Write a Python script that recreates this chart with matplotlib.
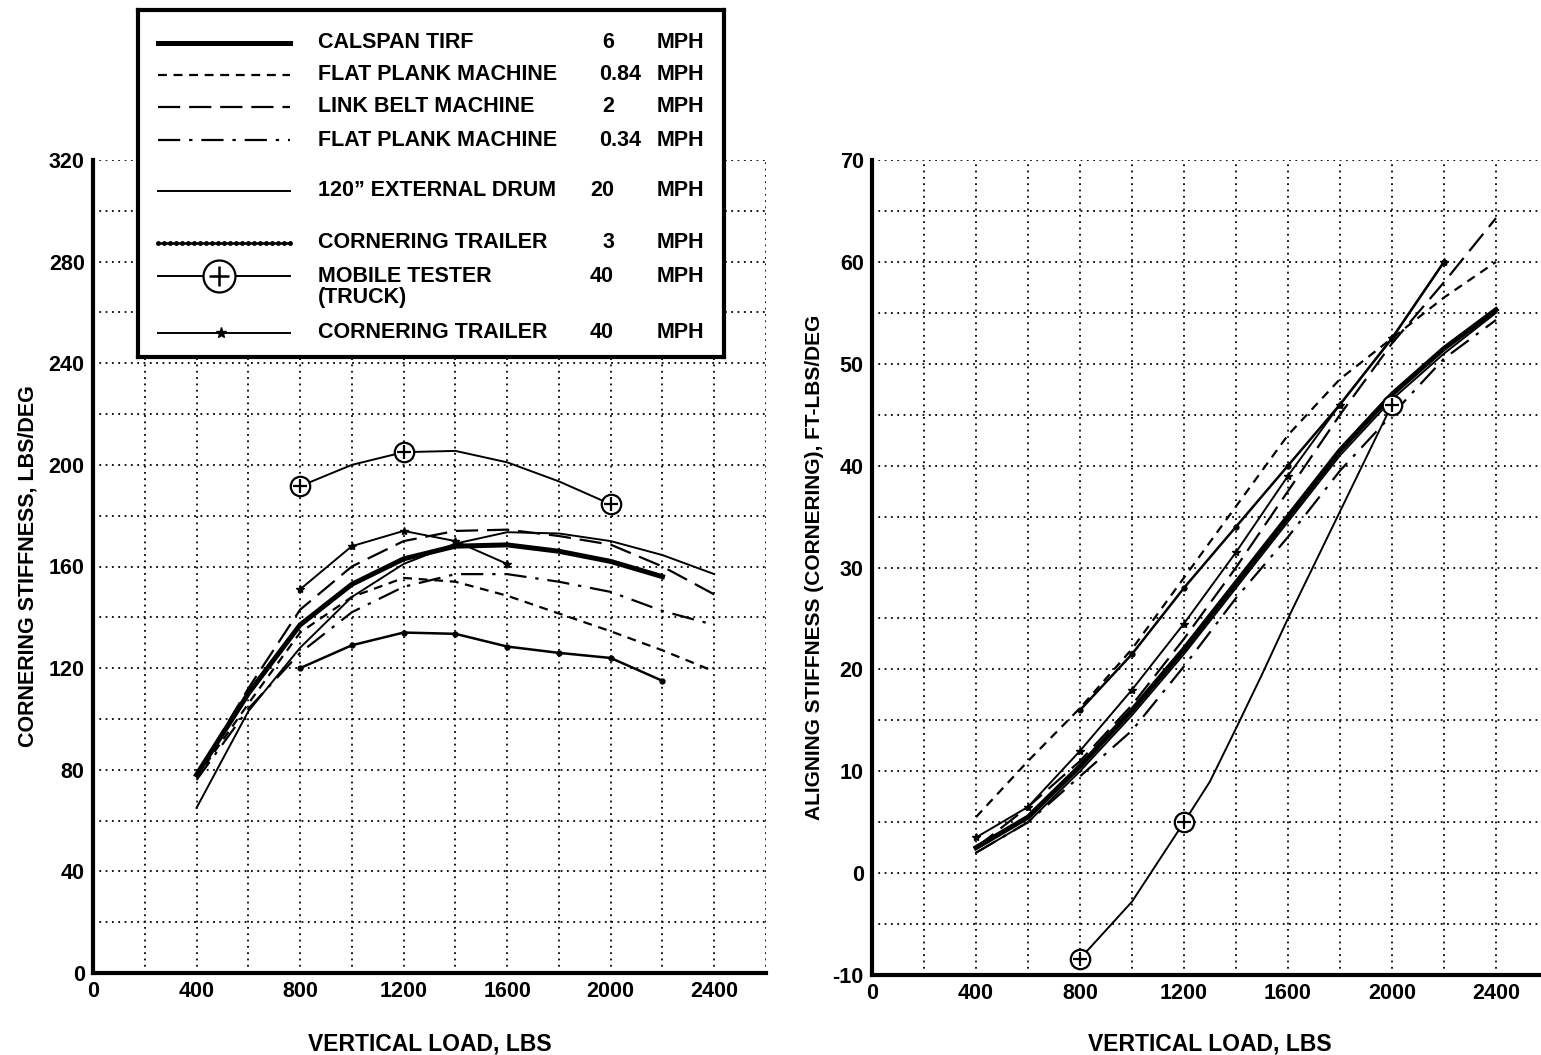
import matplotlib
matplotlib.use("Agg")
import matplotlib.pyplot as plt
from matplotlib.ticker import MultipleLocator

plt.rcParams['font.family'] = ['Liberation Sans', 'DejaVu Sans']
plt.rcParams['font.weight'] = 'bold'

# ---------------- data: left panel (cornering stiffness, lbs/deg) ----------------
load_full = [400, 600, 800, 1000, 1200, 1400, 1600, 1800, 2000, 2200, 2400]
load_calspan = [400, 600, 800, 1000, 1200, 1400, 1600, 1800, 2000, 2200]
cs_calspan = [78, 110, 137, 153, 163, 168, 168.5, 166, 162, 156]
cs_fp084 = [77, 106, 134, 148, 155.5, 154, 148.5, 141.5, 134.5, 127, 118.7]
cs_linkbelt = [78, 112, 143, 160, 170, 174, 174.5, 172, 168.6, 160, 149]
cs_fp034 = [76, 104, 126, 142, 152, 157, 157, 154, 150, 142.5, 137]
cs_drum = [65, 103, 128, 148, 161, 169, 173.5, 173, 170, 164.5, 157]
load_tr3_l = [800, 1000, 1200, 1400, 1600, 1800, 2000, 2200]
cs_trailer3 = [120, 129, 134, 133.5, 128.5, 126, 124, 115]
load_tr40_l = [800, 1000, 1200, 1400, 1600]
cs_trailer40 = [151, 168, 174, 170, 161]
load_mob_l = [800, 1000, 1200, 1400, 1600, 1800, 2000]
cs_mobile = [191.6, 200, 205, 205.5, 201, 193.5, 184.5]
mob_l_marked = [0, 2, 6]

# ---------------- data: right panel (aligning stiffness, ft-lbs/deg) ----------------
as_calspan = [2.5, 5.5, 10.5, 16, 22, 28.5, 35, 41.5, 47, 51.5, 55.3]
as_fp084 = [5.5, 11, 16.2, 22, 29, 36, 43, 48.5, 52.5, 56.5, 60]
as_linkbelt = [2.5, 6.5, 11, 16.5, 23, 30, 37.5, 45, 52, 58, 64.3]
as_fp034 = [2, 5, 9.5, 14, 20.3, 27, 33, 39.5, 45, 50.5, 54.3]
as_drum = [2, 5, 10, 15.5, 21.5, 28, 34.5, 41, 46.5, 51, 55]
load_tr3_r = [800, 1000, 1200, 1400, 1600, 1800, 2000, 2200]
as_trailer3 = [16, 21.5, 28, 34, 40, 46, 52.5, 60]
load_tr40_r = [400, 600, 800, 1000, 1200, 1400, 1600, 1800, 2000, 2200]
as_trailer40 = [3.5, 6.5, 12, 18, 24.5, 31.5, 39, 46, 52.5, 60]
load_mob_r = [800, 1000, 1200, 1300, 1400, 1500, 1600, 1800, 2000]
as_mobile = [-8.4, -2.8, 5, 9, 14.2, 19.5, 25, 35.5, 46]
mob_r_marked = [0, 2, 8]

legend_names = ["CALSPAN TIRF", "FLAT PLANK MACHINE", "LINK BELT MACHINE",
                "FLAT PLANK MACHINE", "120\u201d EXTERNAL DRUM", "CORNERING TRAILER",
                "MOBILE TESTER\n(TRUCK)", "CORNERING TRAILER"]
legend_speeds = ["6", "0.84", "2", "0.34", "20", "3", "40", "40"]

W, H = 1541, 1055
fig = plt.figure(figsize=(W / 100, H / 100), dpi=100)
fig.patch.set_facecolor('white')

STY = {
    'calspan': dict(color='black', lw=3.6, ls='-'),
    'fp084': dict(color='black', lw=1.6, ls=(0, (4, 3))),
    'linkbelt': dict(color='black', lw=1.6, ls=(0, (10, 4))),
    'fp034': dict(color='black', lw=1.6, ls=(0, (10, 4, 1.5, 4))),
    'drum': dict(color='black', lw=1.4, ls='-'),
    'tr3': dict(color='black', lw=1.8, ls='-', marker='o', ms=3.5),
    'tr40': dict(color='black', lw=1.4, ls='-', marker='*', ms=6),
    'mob': dict(color='black', lw=1.4, ls='-'),
}

TICK_FS = 15.5
LAB_FS = 16.5
LEG_FS = 15.5


def style_axes(ax, ylo, yhi, ymaj, ymin):
    ax.set_xlim(0, 2600)
    ax.set_ylim(ylo, yhi)
    ax.xaxis.set_major_locator(MultipleLocator(400))
    ax.xaxis.set_minor_locator(MultipleLocator(200))
    ax.yaxis.set_major_locator(MultipleLocator(ymaj))
    ax.yaxis.set_minor_locator(MultipleLocator(ymin))
    ax.grid(True, which='both', color='black', ls=(0, (1, 2.5)), lw=1.3)
    ax.set_axisbelow(True)
    for s in ['top', 'right']:
        ax.spines[s].set_visible(False)
    for s in ['left', 'bottom']:
        ax.spines[s].set_linewidth(3)
        ax.spines[s].set_color('black')
    ax.tick_params(which='both', length=0, labelsize=TICK_FS, pad=6)
    ax.set_xticks([0, 400, 800, 1200, 1600, 2000, 2400])
    ax.set_xticklabels(['0', '400', '800', '1200', '1600', '2000', '2400'],
                       fontsize=TICK_FS, fontweight='bold')


def mobile_markers(ax, xs, ys, idx):
    mx = [xs[i] for i in idx]
    my = [ys[i] for i in idx]
    ax.plot(mx, my, ls='none', marker='o', ms=14, mfc='white', mec='black', mew=1.6, zorder=5)
    ax.plot(mx, my, ls='none', marker='+', ms=10, mec='black', mew=1.6, zorder=6)


# ---------------- left panel ----------------
axL = fig.add_axes([93 / W, (H - 973) / H, 673 / W, 813 / H])
style_axes(axL, 0, 320, 40, 20)
yt = list(range(0, 321, 40))
axL.set_yticks(yt)
axL.set_yticklabels([str(v) for v in yt], fontsize=TICK_FS, fontweight='bold')
axL.plot(load_calspan, cs_calspan, **STY['calspan'])
axL.plot(load_full, cs_fp084, **STY['fp084'])
axL.plot(load_full, cs_linkbelt, **STY['linkbelt'])
axL.plot(load_full, cs_fp034, **STY['fp034'])
axL.plot(load_full, cs_drum, **STY['drum'])
axL.plot(load_tr3_l, cs_trailer3, **STY['tr3'])
axL.plot(load_tr40_l, cs_trailer40, **STY['tr40'])
axL.plot(load_mob_l, cs_mobile, **STY['mob'])
mobile_markers(axL, load_mob_l, cs_mobile, mob_l_marked)
axL.set_xlabel('VERTICAL LOAD, LBS', fontsize=LAB_FS, fontweight='bold', labelpad=22)
axL.set_ylabel('CORNERING STIFFNESS, LBS/DEG', fontsize=15.5, fontweight='bold', labelpad=7)

# ---------------- right panel ----------------
axR = fig.add_axes([872 / W, (H - 975) / H, 676 / W, 815 / H])
style_axes(axR, -10, 70, 10, 5)
yt2 = list(range(-10, 71, 10))
axR.set_yticks(yt2)
axR.set_yticklabels([str(v) for v in yt2], fontsize=TICK_FS, fontweight='bold')
axR.plot(load_full, as_calspan, **STY['calspan'])
axR.plot(load_full, as_fp084, **STY['fp084'])
axR.plot(load_full, as_linkbelt, **STY['linkbelt'])
axR.plot(load_full, as_fp034, **STY['fp034'])
axR.plot(load_full, as_drum, **STY['drum'])
axR.plot(load_tr3_r, as_trailer3, **STY['tr3'])
axR.plot(load_tr40_r, as_trailer40, **STY['tr40'])
axR.plot(load_mob_r, as_mobile, **STY['mob'])
mobile_markers(axR, load_mob_r, as_mobile, mob_r_marked)
axR.set_xlabel('VERTICAL LOAD, LBS', fontsize=LAB_FS, fontweight='bold', labelpad=20)
axR.set_ylabel('ALIGNING STIFFNESS (CORNERING), FT-LBS/DEG', fontsize=15,
               fontweight='bold', labelpad=6)

# ---------------- legend box (pixel coordinates inside its own axes) ----------------
lx0, lx1, ly0, ly1 = 138, 724, 10, 357
axG = fig.add_axes([lx0 / W, (H - ly1) / H, (lx1 - lx0) / W, (ly1 - ly0) / H], zorder=10)
axG.set_xlim(lx0, lx1)
axG.set_ylim(ly1, ly0)
axG.set_xticks([])
axG.set_yticks([])
axG.set_facecolor('white')
for s in axG.spines.values():
    s.set_linewidth(3)
    s.set_color('black')

row_y = [43, 75, 107, 140, 191, 243, 276, 333]
keys = ['calspan', 'fp084', 'linkbelt', 'fp034', 'drum', 'tr3', 'mob', 'tr40']
sx0, sx1 = 158, 290
for key, y in zip(keys, row_y):
    st = dict(STY[key])
    if key == 'tr3':
        st.pop('marker'); st.pop('ms')
        axG.plot([sx0, sx1], [y, y], **st)
        axG.plot([sx0 + 6 * i for i in range(23)], [y] * 23, ls='none', marker='o', ms=2.5, color='black')
    elif key == 'tr40':
        st.pop('marker'); st.pop('ms')
        axG.plot([sx0, sx1], [y, y], **st)
        axG.plot([(sx0 + sx1) / 2 - 3], [y], ls='none', marker='*', ms=8, color='black')
    elif key == 'mob':
        axG.plot([sx0, sx1], [y, y], **st)
        axG.plot([(sx0 + sx1) / 2 - 5], [y], ls='none', marker='o', ms=23, mfc='white', mec='black', mew=1.6)
        axG.plot([(sx0 + sx1) / 2 - 5], [y], ls='none', marker='+', ms=15, mec='black', mew=1.8)
    else:
        axG.plot([sx0, sx1], [y, y], **st)

for name, spd, y in zip(legend_names, legend_speeds, row_y):
    if '\n' in name:
        first, second = name.split('\n')
        axG.text(318, y, first, fontsize=LEG_FS, fontweight='bold', va='center', ha='left')
        axG.text(318, y + 21, second, fontsize=LEG_FS, fontweight='bold', va='center', ha='left')
    else:
        axG.text(318, y, name, fontsize=LEG_FS, fontweight='bold', va='center', ha='left')
    if '.' in spd:
        axG.text(599, y, spd, fontsize=LEG_FS, fontweight='bold', va='center', ha='left')
    else:
        axG.text(614, y, spd, fontsize=LEG_FS, fontweight='bold', va='center', ha='right')
    axG.text(657, y, 'MPH', fontsize=LEG_FS, fontweight='bold', va='center', ha='left')

fig.savefig('out.png', dpi=100, facecolor='white')
